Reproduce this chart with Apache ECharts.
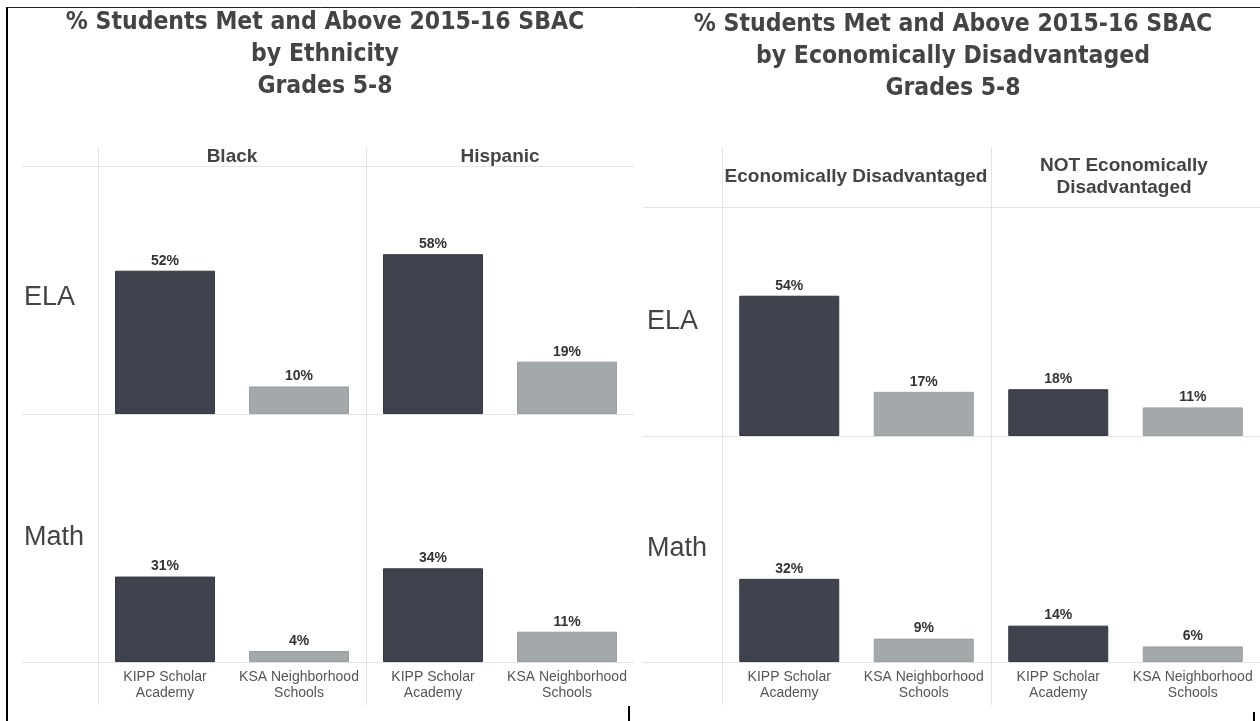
<!DOCTYPE html>
<html>
<head>
<meta charset="utf-8">
<script src="https://cdn.jsdelivr.net/npm/echarts@6/dist/echarts.min.js"></script>
<style>
  html, body { margin: 0; padding: 0; background: #fff; }
  #chart { width: 1260px; height: 721px; }
</style>
</head>
<body>
<div id="chart"></div>
<script>
// data
const schools = ['KIPP Scholar\nAcademy', 'KSA Neighborhood\nSchools'];
const subjects = ['ELA', 'Math'];
const ethnicGroups = ['Black', 'Hispanic'];
const econGroups = ['Economically Disadvantaged', 'NOT Economically\nDisadvantaged'];
const titleLeft = '% Students Met and Above 2015-16 SBAC\nby Ethnicity\nGrades 5-8';
const titleRight = '% Students Met and Above 2015-16 SBAC\nby Economically Disadvantaged\nGrades 5-8';

const blackEla = [52, 10];
const blackMath = [31, 4];
const hispanicEla = [58, 19];
const hispanicMath = [34, 11];
const econEla = [54, 17];
const econMath = [32, 9];
const notEconEla = [18, 11];
const notEconMath = [14, 6];

const schoolColors = ['#3f434e', '#a3a8ab'];
const gridLine = '#e3e3e3';
const textColor = '#444';

// panel layout: column lefts, row tops, sizes
const panels = [
    {cols: [98, 366], colW: 268, rows: [166, 414], rowH: 248, max: 90,
        data: [[blackEla, hispanicEla], [blackMath, hispanicMath]]},
    {cols: [722, 991], colW: 269, rows: [210, 436], rowH: 226, max: 87,
        data: [[econEla, notEconEla], [econMath, notEconMath]]},
];

const grids = [], xAxes = [], yAxes = [], series = [];
panels.forEach(p => {
    p.rows.forEach((top, r) => {
        p.cols.forEach((left, c) => {
            const idx = grids.length;
            grids.push({left: left, top: top, width: p.colW, height: p.rowH});
            xAxes.push({
                type: 'category', gridIndex: idx, data: schools,
                axisLine: {show: false}, axisTick: {show: false},
                axisLabel: {
                    show: r === 1, color: '#555', fontSize: 14, lineHeight: 16,
                    fontFamily: 'Liberation Sans', margin: 7, interval: 0,
                },
            });
            yAxes.push({
                type: 'value', gridIndex: idx, min: 0, max: p.max, show: false,
                splitLine: {show: false},
            });
            series.push({
                type: 'bar', xAxisIndex: idx, yAxisIndex: idx, barWidth: 100,
                data: p.data[r][c].map((v, i) => ({
                    value: v,
                    itemStyle: {color: schoolColors[i], borderColor: i === 0 ? '#353842' : '#9a9fa2', borderWidth: 1},
                })),
                label: {
                    show: true, position: 'top', distance: 3, formatter: '{c}%',
                    color: '#333', fontSize: 14, fontWeight: 'bold', fontFamily: 'Liberation Sans',
                },
                silent: true,
            });
        });
    });
});

const line = (x1, y1, x2, y2, color, w) => ({
    type: 'line', silent: true,
    shape: {x1, y1, x2, y2},
    style: {stroke: color || gridLine, lineWidth: w || 1},
});
const text = (x, y, t, font, align) => ({
    type: 'text', silent: true, x: x, y: y,
    style: {text: t, font: font, fill: textColor, align: align || 'center', verticalAlign: 'middle', lineHeight: 22},
});

const headerFont = 'bold 19px "Liberation Sans"';
const rowFont = '27px "Liberation Sans"';

const graphic = [
    // table borders
    line(7, 7.5, 1260, 7.5, '#222', 1),
    line(7, 7, 7, 721, '#000', 2),
    line(629, 706, 629, 721, '#000', 2),
    line(1254, 712, 1254, 721, '#000', 2),
    // left panel frame
    line(22, 166.5, 634, 166.5),
    line(22, 414.5, 634, 414.5),
    line(22, 662.5, 634, 662.5),
    line(98.5, 147, 98.5, 705),
    line(366.5, 147, 366.5, 705),
    // right panel frame
    line(643, 207.5, 1260, 207.5),
    line(643, 436.5, 1260, 436.5),
    line(643, 662.5, 1260, 662.5),
    line(722.5, 147, 722.5, 705),
    line(991.5, 147, 991.5, 705),
    // column headers
    text(232, 157, ethnicGroups[0], headerFont),
    text(500, 157, ethnicGroups[1], headerFont),
    text(856, 177, econGroups[0], headerFont),
    text(1124, 177, econGroups[1], headerFont),
    // row labels
    text(24, 298, subjects[0], rowFont, 'left'),
    text(24, 538, subjects[1], rowFont, 'left'),
    text(647, 322, subjects[0], rowFont, 'left'),
    text(647, 549, subjects[1], rowFont, 'left'),
];

const chart = echarts.init(document.getElementById('chart'));
chart.setOption({
    animation: false,
    backgroundColor: '#fff',
    title: [
        {text: titleLeft, left: 320, top: 2, textAlign: 'center',
            textStyle: {color: textColor, fontSize: 24.5, fontWeight: 'bold', fontFamily: 'DejaVu Sans Condensed', lineHeight: 32}},
        {text: titleRight, left: 948, top: 4, textAlign: 'center',
            textStyle: {color: textColor, fontSize: 24.5, fontWeight: 'bold', fontFamily: 'DejaVu Sans Condensed', lineHeight: 32}},
    ],
    grid: grids,
    xAxis: xAxes,
    yAxis: yAxes,
    series: series,
    graphic: graphic,
});
</script>
</body>
</html>
